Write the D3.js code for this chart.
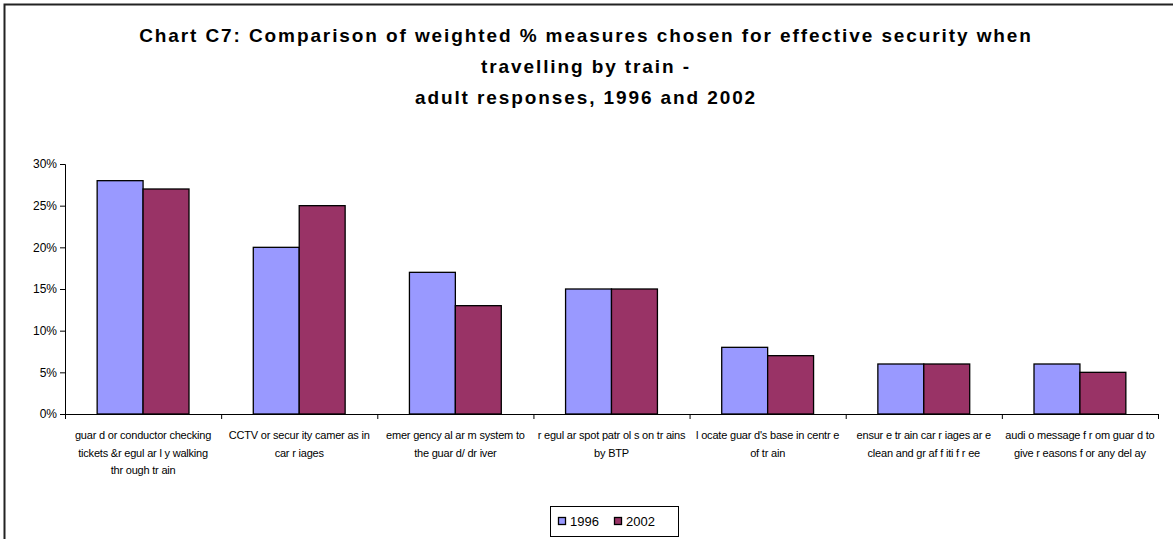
<!DOCTYPE html>
<html>
<head>
<meta charset="utf-8">
<script src="https://cdn.jsdelivr.net/npm/d3@7"></script>
<style>
  body { margin: 0; background: #fff; }
  svg { display: block; font-family: Arial, "Liberation Sans", sans-serif; }
</style>
</head>
<body>
<div id="chart"></div>
<script>
// chart data
var categories = [
    ["guar d or  conductor  checking", "tickets &r egul ar l y walking", "thr ough tr ain"],
    ["CCTV or  secur ity camer as in", "car r iages"],
    ["emer gency al ar m system to", "the guar d/ dr iver"],
    ["r egul ar  spot patr ol s on tr ains", "by BTP"],
    ["l ocate guar d's base in centr e", "of  tr ain"],
    ["ensur e tr ain car r iages ar e", "clean and gr af f iti f r ee"],
    ["audi o message f r om guar d to", "give r easons f or  any del ay"]
];
var seriesNames = ["1996", "2002"];
var values1996 = [28, 20, 17, 15, 8, 6, 6];
var values2002 = [27, 25, 13, 15, 7, 6, 5];
var yTicks = [0, 5, 10, 15, 20, 25, 30];
var colors = ["#9999ff", "#993366"];

function drawChart() {
    var width = 1173, height = 539;
    var plotLeft = 65, plotRight = 1158, plotTop = 164, plotBottom = 414;

    var svg = d3.select("#chart").append("svg")
        .attr("width", width)
        .attr("height", height);

    // outer frame (runs off right and bottom edge)
    svg.append("rect")
        .attr("x", 4.5).attr("y", 4.5)
        .attr("width", width + 10).attr("height", height + 10)
        .attr("fill", "none")
        .attr("stroke", "#222")
        .attr("stroke-width", 2);

    // title
    var titleLines = [
        "Chart C7: Comparison of weighted % measures chosen for effective security when",
        "travelling by train -",
        "adult responses, 1996 and 2002"
    ];
    svg.append("g").selectAll("text")
        .data(titleLines)
        .enter().append("text")
        .attr("x", 586)
        .attr("y", function (d, i) { return 42 + i * 31; })
        .attr("text-anchor", "middle")
        .attr("font-size", "19px")
        .attr("font-weight", "bold")
        .attr("letter-spacing", "1.9px")
        .text(function (d) { return d; });

    // scales
    var x = d3.scaleBand()
        .domain(d3.range(categories.length))
        .range([plotLeft, plotRight])
        .padding(0);

    var y = d3.scaleLinear()
        .domain([0, 30])
        .range([plotBottom, plotTop]);

    var inner = d3.scaleBand()
        .domain(seriesNames)
        .range([0, x.bandwidth()])
        .paddingOuter(0.7)
        .paddingInner(0);

    // bars
    var series = [values1996, values2002];
    series.forEach(function (vals, s) {
        svg.append("g").selectAll("rect")
            .data(vals)
            .enter().append("rect")
            .attr("x", function (d, i) { return x(i) + inner(seriesNames[s]); })
            .attr("y", function (d) { return y(d); })
            .attr("width", inner.bandwidth())
            .attr("height", function (d) { return y(0) - y(d); })
            .attr("fill", colors[s])
            .attr("stroke", "#000")
            .attr("stroke-width", 1.3);
    });

    // y axis
    var yAxis = d3.axisLeft(y)
        .tickValues(yTicks)
        .tickSize(5)
        .tickFormat(function (d) { return d + "%"; });
    var gy = svg.append("g")
        .attr("transform", "translate(" + plotLeft + ",0)")
        .call(yAxis);
    gy.select(".domain").attr("stroke", "#000");
    gy.selectAll(".tick line").attr("stroke", "#000");
    gy.selectAll(".tick text")
        .attr("x", -8)
        .attr("font-size", "12px")
        .attr("font-family", "Arial, 'Liberation Sans', sans-serif")
        .attr("fill", "#000");

    // x axis line with boundary ticks
    var boundaries = d3.range(categories.length + 1).map(function (i) {
        return i < categories.length ? x(i) : plotRight;
    });
    svg.append("line")
        .attr("x1", plotLeft).attr("x2", plotRight)
        .attr("y1", plotBottom + 0.5).attr("y2", plotBottom + 0.5)
        .attr("stroke", "#000");
    svg.append("g").selectAll("line")
        .data(boundaries)
        .enter().append("line")
        .attr("x1", function (d) { return d + 0.5; })
        .attr("x2", function (d) { return d + 0.5; })
        .attr("y1", plotBottom).attr("y2", plotBottom + 5)
        .attr("stroke", "#000");

    // category labels
    var labels = svg.append("g").selectAll("text")
        .data(categories)
        .enter().append("text")
        .attr("text-anchor", "middle")
        .attr("font-size", "11px")
        .attr("letter-spacing", "-0.2px")
        .attr("fill", "#000");
    labels.each(function (lines, i) {
        var t = d3.select(this);
        lines.forEach(function (ln, j) {
            t.append("tspan")
                .attr("x", x(i) + x.bandwidth() / 2)
                .attr("y", 439 + j * 17.5)
                .text(ln);
        });
    });

    // legend
    var lg = svg.append("g").attr("transform", "translate(550,506)");
    lg.append("rect")
        .attr("x", 0.5).attr("y", 0.5)
        .attr("width", 128).attr("height", 30)
        .attr("fill", "#fff")
        .attr("stroke", "#000");
    seriesNames.forEach(function (name, s) {
        var ox = 8 + s * 56;
        lg.append("rect")
            .attr("x", ox + 0.5).attr("y", 11.5)
            .attr("width", 7).attr("height", 7)
            .attr("fill", colors[s])
            .attr("stroke", "#000")
            .attr("stroke-width", 1.3);
        lg.append("text")
            .attr("x", ox + 12)
            .attr("y", 20)
            .attr("font-size", "13px")
            .attr("fill", "#000")
            .text(name);
    });
}

drawChart();
</script>
</body>
</html>
